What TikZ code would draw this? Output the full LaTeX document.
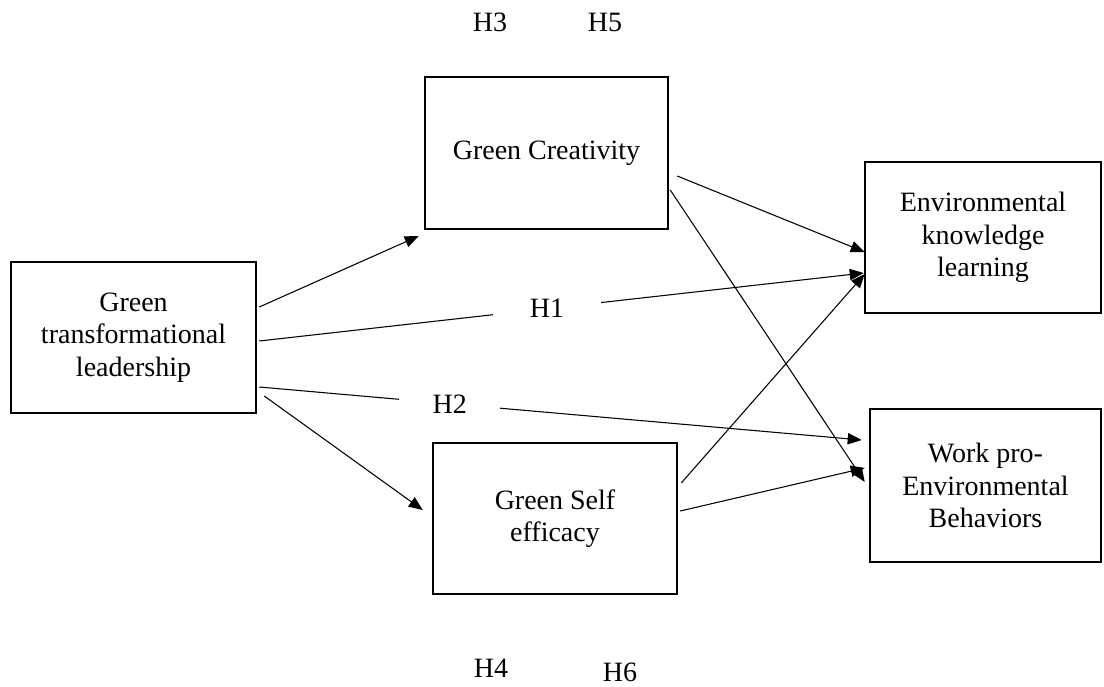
\documentclass[tikz,border=0pt]{standalone}
\usepackage{fontspec}
\setmainfont{Liberation Serif}
\usetikzlibrary{calc,arrows.meta}
\newcommand\pxu{0.75pt}
\tikzset{
  box/.style={draw, line width=1.9pt, inner sep=0pt, align=center,
    font=\fontsize{21}{24.4}\selectfont},
  lbl/.style={inner sep=0pt, font=\fontsize{21}{24.4}\selectfont},
  gaplbl/.style={fill=white, inner ysep=2pt, font=\fontsize{21}{24.4}\selectfont},
  arr/.style={line width=0.8pt, -{Triangle[length=10.5pt,width=8.5pt]}},
  seg/.style={line width=0.8pt}
}
\begin{document}
\begin{tikzpicture}[x=\pxu,y=-\pxu]
\useasboundingbox (0,0) rectangle (1104,686);
% boxes
\node[box, minimum width=245*\pxu, minimum height=151*\pxu] (gtl) at (133.5,337.5) {Green\\transformational\\leadership};
\node[box, minimum width=243*\pxu, minimum height=152*\pxu] (gc) at (546.5,153) {Green Creativity};
\node[box, minimum width=244*\pxu, minimum height=151*\pxu] (gse) at (555,518.5) {Green Self\\efficacy};
\node[box, minimum width=236*\pxu, minimum height=151*\pxu] (ekl) at (983,237.5) {Environmental\\knowledge\\learning};
\node[box, minimum width=231*\pxu, minimum height=153*\pxu] (wpeb) at (985.5,485.5) {Work pro-\\Environmental\\Behaviors};
% hypothesis labels
\node[lbl] (h3) at (490,22.5) {H3};
\node[lbl] (h5) at (605,22.5) {H5};
\node[lbl] (h4) at (491,668) {H4};
\node[lbl] (h6) at (620,672) {H6};
% connectors
\draw[arr] ($(gtl.east)+(2,-30.5)$) -- ($(gc.west)+(-5,83)$);
\draw[arr] ($(gtl.east)+(7,58.5)$) -- ($(gse.west)+(-9,-8.5)$);
\draw[arr] ($(gtl.east)+(2,3.5)$) -- node[gaplbl, pos=0.476, inner xsep=28pt] (h1) {H1} ($(ekl.west)+(0,35.5)$);
\draw[arr] ($(gtl.east)+(2,49.5)$) -- node[gaplbl, pos=0.316, inner xsep=25pt] (h2) {H2} ($(wpeb.west)+(-7,-45.5)$);
\draw[arr] ($(gc.east)+(8,23)$) -- ($(ekl.west)+(1,14.5)$);
\draw[arr] ($(gc.east)+(1,37)$) -- ($(wpeb.west)+(-4,-3.5)$);
\draw[arr] ($(gse.east)+(3,-35.5)$) -- ($(ekl.west)+(1,36.5)$);
\draw[arr] ($(gse.east)+(2,-7.5)$) -- ($(wpeb.west)+(-4,-17.5)$);
\end{tikzpicture}
\end{document}
